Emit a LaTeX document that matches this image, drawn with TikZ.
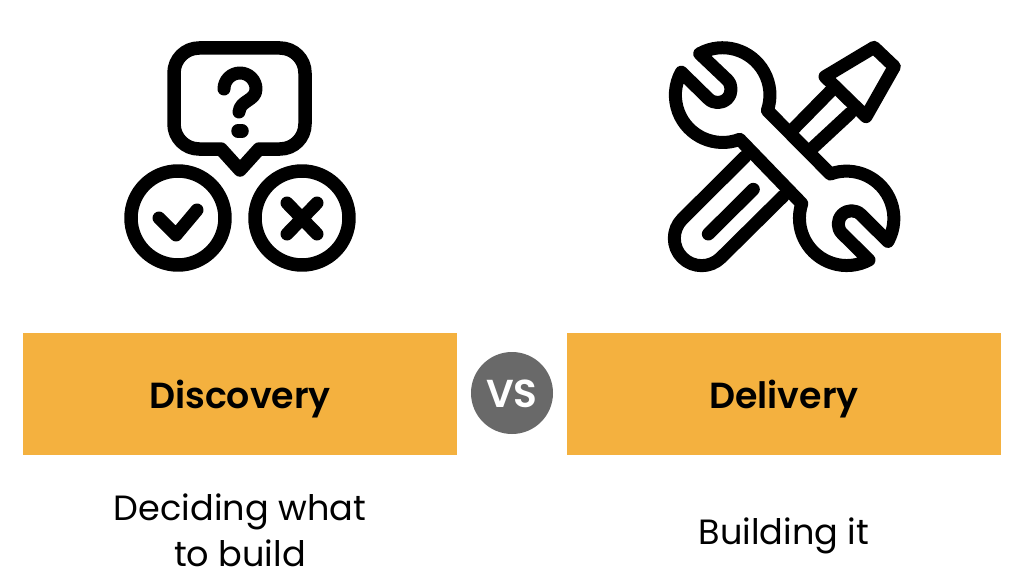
\documentclass[tikz,border=0pt]{standalone}
\usepackage{fontspec}
\setmainfont{Poppins}[BoldFont={Poppins SemiBold}]
\definecolor{barcol}{HTML}{F4B13F}
\definecolor{vscol}{HTML}{696969}
\tikzset{
  bar/.style={fill=barcol,draw=none},
  icon/.style={draw=black,line width=13.5pt,line join=round,line cap=round},
  toolicon/.style={draw=black,line width=13pt,line join=round,line cap=round},
  iconthin/.style={draw=black,line width=13pt,line join=round,line cap=round},
  titletext/.style={anchor=base,font=\fontsize{36.3}{36.3}\selectfont\bfseries,text=black,inner sep=0pt},
  subtext/.style={anchor=base,font=\fontsize{35.1}{35.1}\selectfont,text=black,inner sep=0pt},
  vstext/.style={anchor=base,font=\fontsize{39}{39}\selectfont\bfseries,text=white,inner sep=0pt}
}
\begin{document}
\begin{tikzpicture}[x=1pt,y=-1pt]
\useasboundingbox (0,0) rectangle (1024,586);
\fill[white] (0,0) rectangle (1024,586);
% bars
\fill[bar] (23,333) rectangle (457,455);
\fill[bar] (567,333) rectangle (1001,455);
\fill[vscol] (512,393) circle[radius=41];
\node[titletext] (disc) at (240,408) {Discovery};
\node[titletext] (deli) at (784,408) {Delivery};
\node[vstext] (vs) at (512,407) {VS};
\node[subtext] (sub1) at (240,520) {Deciding what};
\node[subtext] (sub2) at (240,566) {to build};
\node[subtext] (sub3) at (784,544) {Building it};
% discovery icon
\draw[icon] (199,48) -- (280,48) arc[start angle=-90,end angle=0,radius=25]
  -- (305,124) arc[start angle=0,end angle=90,radius=25]
  -- (259,149) -- (240,170) -- (221,149) -- (199,149)
  arc[start angle=90,end angle=180,radius=25]
  -- (174,73) arc[start angle=180,end angle=270,radius=25] -- cycle;
\draw[iconthin] (224,89) arc[start angle=180,end angle=360,radius=16]
  .. controls (256,101) and (240,100) .. (239,112);
\draw[icon] (238,131) -- (242,131);
\draw[icon] (178,218) circle[radius=47];
\draw[icon] (302,218) circle[radius=47];
\draw[iconthin] (159,218) -- (176,235) -- (197,210);
\draw[iconthin] (287,203) -- (317,234);
\draw[iconthin] (317,203) -- (287,234);
% tools icon, coordinates on a 3x grid
\begin{scope}[shift={(650,30)},x=0.33333pt,y=-0.33333pt]
\draw[toolicon] (525,140) -- (672,52) -- (733,110) -- (648,260) -- cycle;
\draw[toolicon] (540,185) -- (432,295);
\draw[toolicon] (600,250) -- (490,352);
\draw[toolicon] (285,380) -- (97,567) arc[start angle=225,end angle=45,radius=82] -- (400,498);
\draw[iconthin] (175,612) -- (310,478);
\draw[toolicon] (149,71) arc[start angle=-119,end angle=19,radius=142]
  -- (541,432) arc[start angle=250,end angle=389,radius=142]
  -- (633,554) arc[start angle=-45,end angle=-225,radius=40]
  -- (657,690) arc[start angle=62,end angle=198,radius=142]
  -- (269,328) arc[start angle=69,end angle=209,radius=142]
  -- (175,206) arc[start angle=135,end angle=-45,radius=40]
  -- cycle;
\end{scope}
\end{tikzpicture}
\end{document}
